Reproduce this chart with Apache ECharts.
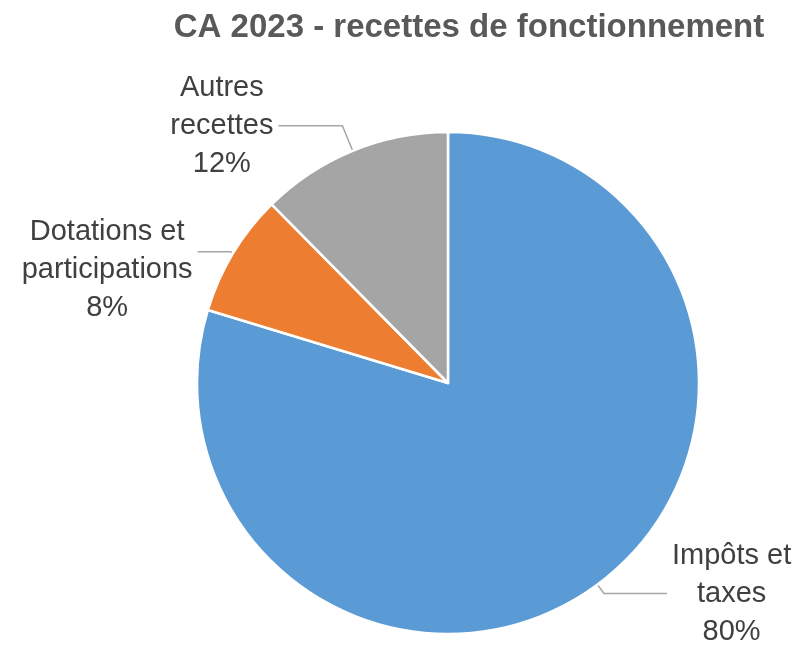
<!DOCTYPE html>
<html>
<head>
<meta charset="utf-8">
<script src="https://cdn.jsdelivr.net/npm/echarts@6/dist/echarts.min.js"></script>
<style>
html,body{margin:0;padding:0;background:#fff;}
#chart{width:804px;height:645px;}
</style>
</head>
<body>
<div id="chart"></div>
<script>
var titleText = 'CA 2023 - recettes de fonctionnement';
var categories = ['Impôts et\ntaxes', 'Dotations et\nparticipations', 'Autres\nrecettes'];
var shares = [79.7, 7.9, 12.4];
var colors = ['#5B9BD5', '#ED7D31', '#A5A5A5'];

// per-slice leader-line styling (layout only)
var leader = [
  { length: 11, length2: 63 },
  { length: 3, length2: 33 },
  { length: 27, length2: 64 }
];

var data = categories.map(function (c, i) {
  return {
    name: c,
    value: shares[i],
    itemStyle: { color: colors[i] },
    labelLine: { length: leader[i].length, length2: leader[i].length2 }
  };
});

var chart = echarts.init(document.getElementById('chart'), null, { renderer: 'canvas' });
chart.setOption({
  backgroundColor: '#ffffff',
  animation: false,
  title: {
    text: titleText,
    left: 464,
    top: 6,
    textAlign: 'center',
    textStyle: {
      fontFamily: 'Liberation Sans, Arial, sans-serif',
      fontWeight: 'bold',
      fontSize: 33,
      color: '#595959'
    }
  },
  series: [{
    type: 'pie',
    center: [448, 383],
    radius: 251,
    startAngle: 90,
    clockwise: true,
    avoidLabelOverlap: false,
    percentPrecision: 0,
    data: data,
    itemStyle: { borderColor: '#ffffff', borderWidth: 2.5 },
    label: {
      show: true,
      position: 'outside',
      color: '#404040',
      fontFamily: 'Liberation Sans, Arial, sans-serif',
      fontSize: 29,
      lineHeight: 38,
      formatter: function (p) {
        var lines = p.name.split('\n').concat([p.percent + '%']);
        return lines.map(function (s) { return '{t|' + s + '}'; }).join('\n');
      },
      rich: {
        t: {
          align: 'center',
          color: '#404040',
          fontFamily: 'Liberation Sans, Arial, sans-serif',
          fontSize: 29,
          lineHeight: 38
        }
      }
    },
    labelLine: {
      show: true,
      smooth: false,
      lineStyle: { color: '#A6A6A6', width: 1.5 }
    },
    labelLayout: function (p) {
      if (p.dataIndex === 1) { return { dy: 18 }; }
      return {};
    },
    emphasis: { disabled: true }
  }]
});
</script>
</body>
</html>
